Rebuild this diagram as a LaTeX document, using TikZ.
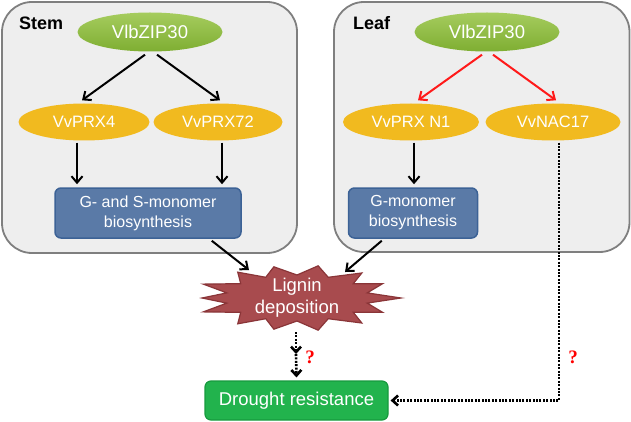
\documentclass[tikz,border=0pt]{standalone}
\usepackage{fontspec}
\setmainfont{Liberation Sans}
\newfontfamily\qfont{Liberation Serif}
\usetikzlibrary{shapes.geometric,arrows.meta,calc}
\definecolor{panelfill}{HTML}{EEEEEE}
\definecolor{panelline}{HTML}{7F7F7F}
\definecolor{gtop}{HTML}{A6CC5E}
\definecolor{gbot}{HTML}{7FAE32}
\definecolor{yel}{HTML}{F1BA1F}
\definecolor{bluefill}{HTML}{5A7AA7}
\definecolor{blueline}{HTML}{3C6296}
\definecolor{ligfill}{HTML}{A84B4E}
\definecolor{ligline}{HTML}{8A3538}
\definecolor{drfill}{HTML}{22B34D}
\definecolor{drline}{HTML}{179A3E}
\definecolor{qred}{HTML}{FF0000}
\definecolor{arrred}{HTML}{FF1A1A}
\tikzset{
  panel/.style={draw=panelline, fill=panelfill, line width=1.8pt, rounded corners=30pt},
  tf/.style={ellipse, inner sep=0pt, top color=gtop, bottom color=gbot, text=white,
    minimum width=145pt, minimum height=39pt, font=\fontsize{18.5}{20}\selectfont},
  gene/.style={ellipse, inner sep=0pt, fill=yel, text=white, minimum height=37pt,
    font=\fontsize{16.5}{18}\selectfont},
  proc/.style={rectangle, rounded corners=6pt, draw=blueline, line width=1.5pt, fill=bluefill,
    text=white, align=center, minimum height=50pt, inner sep=0pt, font=\fontsize{16}{20}\selectfont},
  drbox/.style={rectangle, rounded corners=6pt, draw=drline, line width=1.2pt, fill=drfill,
    text=white, minimum width=183pt, minimum height=39pt, inner sep=0pt, font=\fontsize{18.5}{20}\selectfont},
  ligtext/.style={text=white, align=center, inner sep=0pt, font=\fontsize{18.5}{21.7}\selectfont},
  arr/.style={-{Straight Barb[length=6.5pt,width=11pt]}, line width=2pt},
  dotarr/.style={-{Straight Barb[length=5.5pt,width=10pt]}, line width=2.6pt, dash pattern=on 2pt off 1.4pt},
  title/.style={font=\bfseries\fontsize{18}{20}\selectfont, anchor=base west, inner sep=0pt},
  qmark/.style={text=qred, font=\qfont\bfseries\fontsize{19}{20}\selectfont, inner sep=0pt},
}
\begin{document}
\begin{tikzpicture}[x=1pt,y=-1pt]
\useasboundingbox (0,0) rectangle (631,422);
% panels
\draw[panel] (2,2) rectangle (297,253);
\draw[panel] (334,2) rectangle (629.5,252);
\node[title] (st) at (19,30) {Stem};
\node[title] (lf) at (353,30) {Leaf};
% stem
\node[tf] (zs) at (150,32) {VlbZIP30};
\node[gene, minimum width=131pt] (p4) at (84,122) {VvPRX4};
\node[gene, minimum width=129pt] (p72) at (218,122) {VvPRX72};
\node[proc, minimum width=186pt] (gs) at (148,213) {G- and S-monomer\\biosynthesis};
% leaf
\node[tf] (zl) at (487,32) {VlbZIP30};
\node[gene, minimum width=136pt] (pn1) at (411,122) {VvPRX N1};
\node[gene, minimum width=135pt] (nac) at (553,122) {VvNAC17};
\node[proc, minimum width=129pt] (gm) at (413,213) {G-monomer\\biosynthesis};
% lignin starburst
\coordinate (ligc) at (297,298);
\filldraw[fill=ligfill, draw=ligline, line width=1.2pt, line join=miter]
  ($(ligc)+({104*cos(0)},{32*sin(0)})$)
  \foreach \k [evaluate=\k as \rx using {mod(\k,2)==0 ? (mod(\k,4)==0 ? 104 : 95) : 72},
               evaluate=\k as \ry using {mod(\k,2)==0 ? (mod(\k,4)==0 ? 32 : 33) : 23},
               evaluate=\k as \ang using {\k*360/28}] in {1,...,27}
  { -- ($(ligc)+({\rx*cos(\ang)},{\ry*sin(\ang)})$) } -- cycle;
\node[ligtext] (lig) at (ligc) {Lignin\\deposition};
% drought
\node[drbox] (dr) at (296.5,400.5) {Drought resistance};
% arrows stem
\draw[arr] ([xshift=-5pt,yshift=-3pt]zs.south) -- ([xshift=-2pt,yshift=3pt]p4.north);
\draw[arr] ([xshift=7pt,yshift=-3pt]zs.south) -- ([xshift=2pt,yshift=3pt]p72.north);
\draw[arr] ([xshift=-7pt,yshift=-2pt]p4.south) -- ([xshift=-7pt,yshift=3pt]p4.south |- gs.north);
\draw[arr] ([xshift=4pt,yshift=-2pt]p72.south) -- ([xshift=4pt,yshift=3pt]p72.south |- gs.north);
% arrows leaf
\draw[arr, draw=arrred] ([xshift=-5pt,yshift=-3pt]zl.south) -- ([xshift=7pt,yshift=3pt]pn1.north);
\draw[arr, draw=arrred] ([xshift=6pt,yshift=-3pt]zl.south) -- ([xshift=3pt,yshift=3pt]nac.north);
\draw[arr] ([xshift=3pt,yshift=-2pt]pn1.south) -- ([xshift=3pt,yshift=3pt]pn1.south |- gm.north);
% to lignin
\draw[arr] ([shift={(-30,2)}]gs.south east) -- ([shift={(-48,-28)}]ligc);
\draw[arr] ([shift={(34,2)}]gm.south west) -- ([shift={(48,-26)}]ligc);
% dotted to drought
\coordinate (mid) at (296,354);
\draw[dotarr] ([shift={(-1,34)}]ligc) -- (mid);
\draw[dotarr] (mid) -- ([yshift=3pt]dr.north);
\draw[dotarr] ([xshift=6pt,yshift=-2pt]nac.south) |- ([xshift=2pt]dr.east);
\node[qmark] (q1) at (310,357) {?};
\node[qmark] (q2) at (573,357) {?};
\end{tikzpicture}
\end{document}
